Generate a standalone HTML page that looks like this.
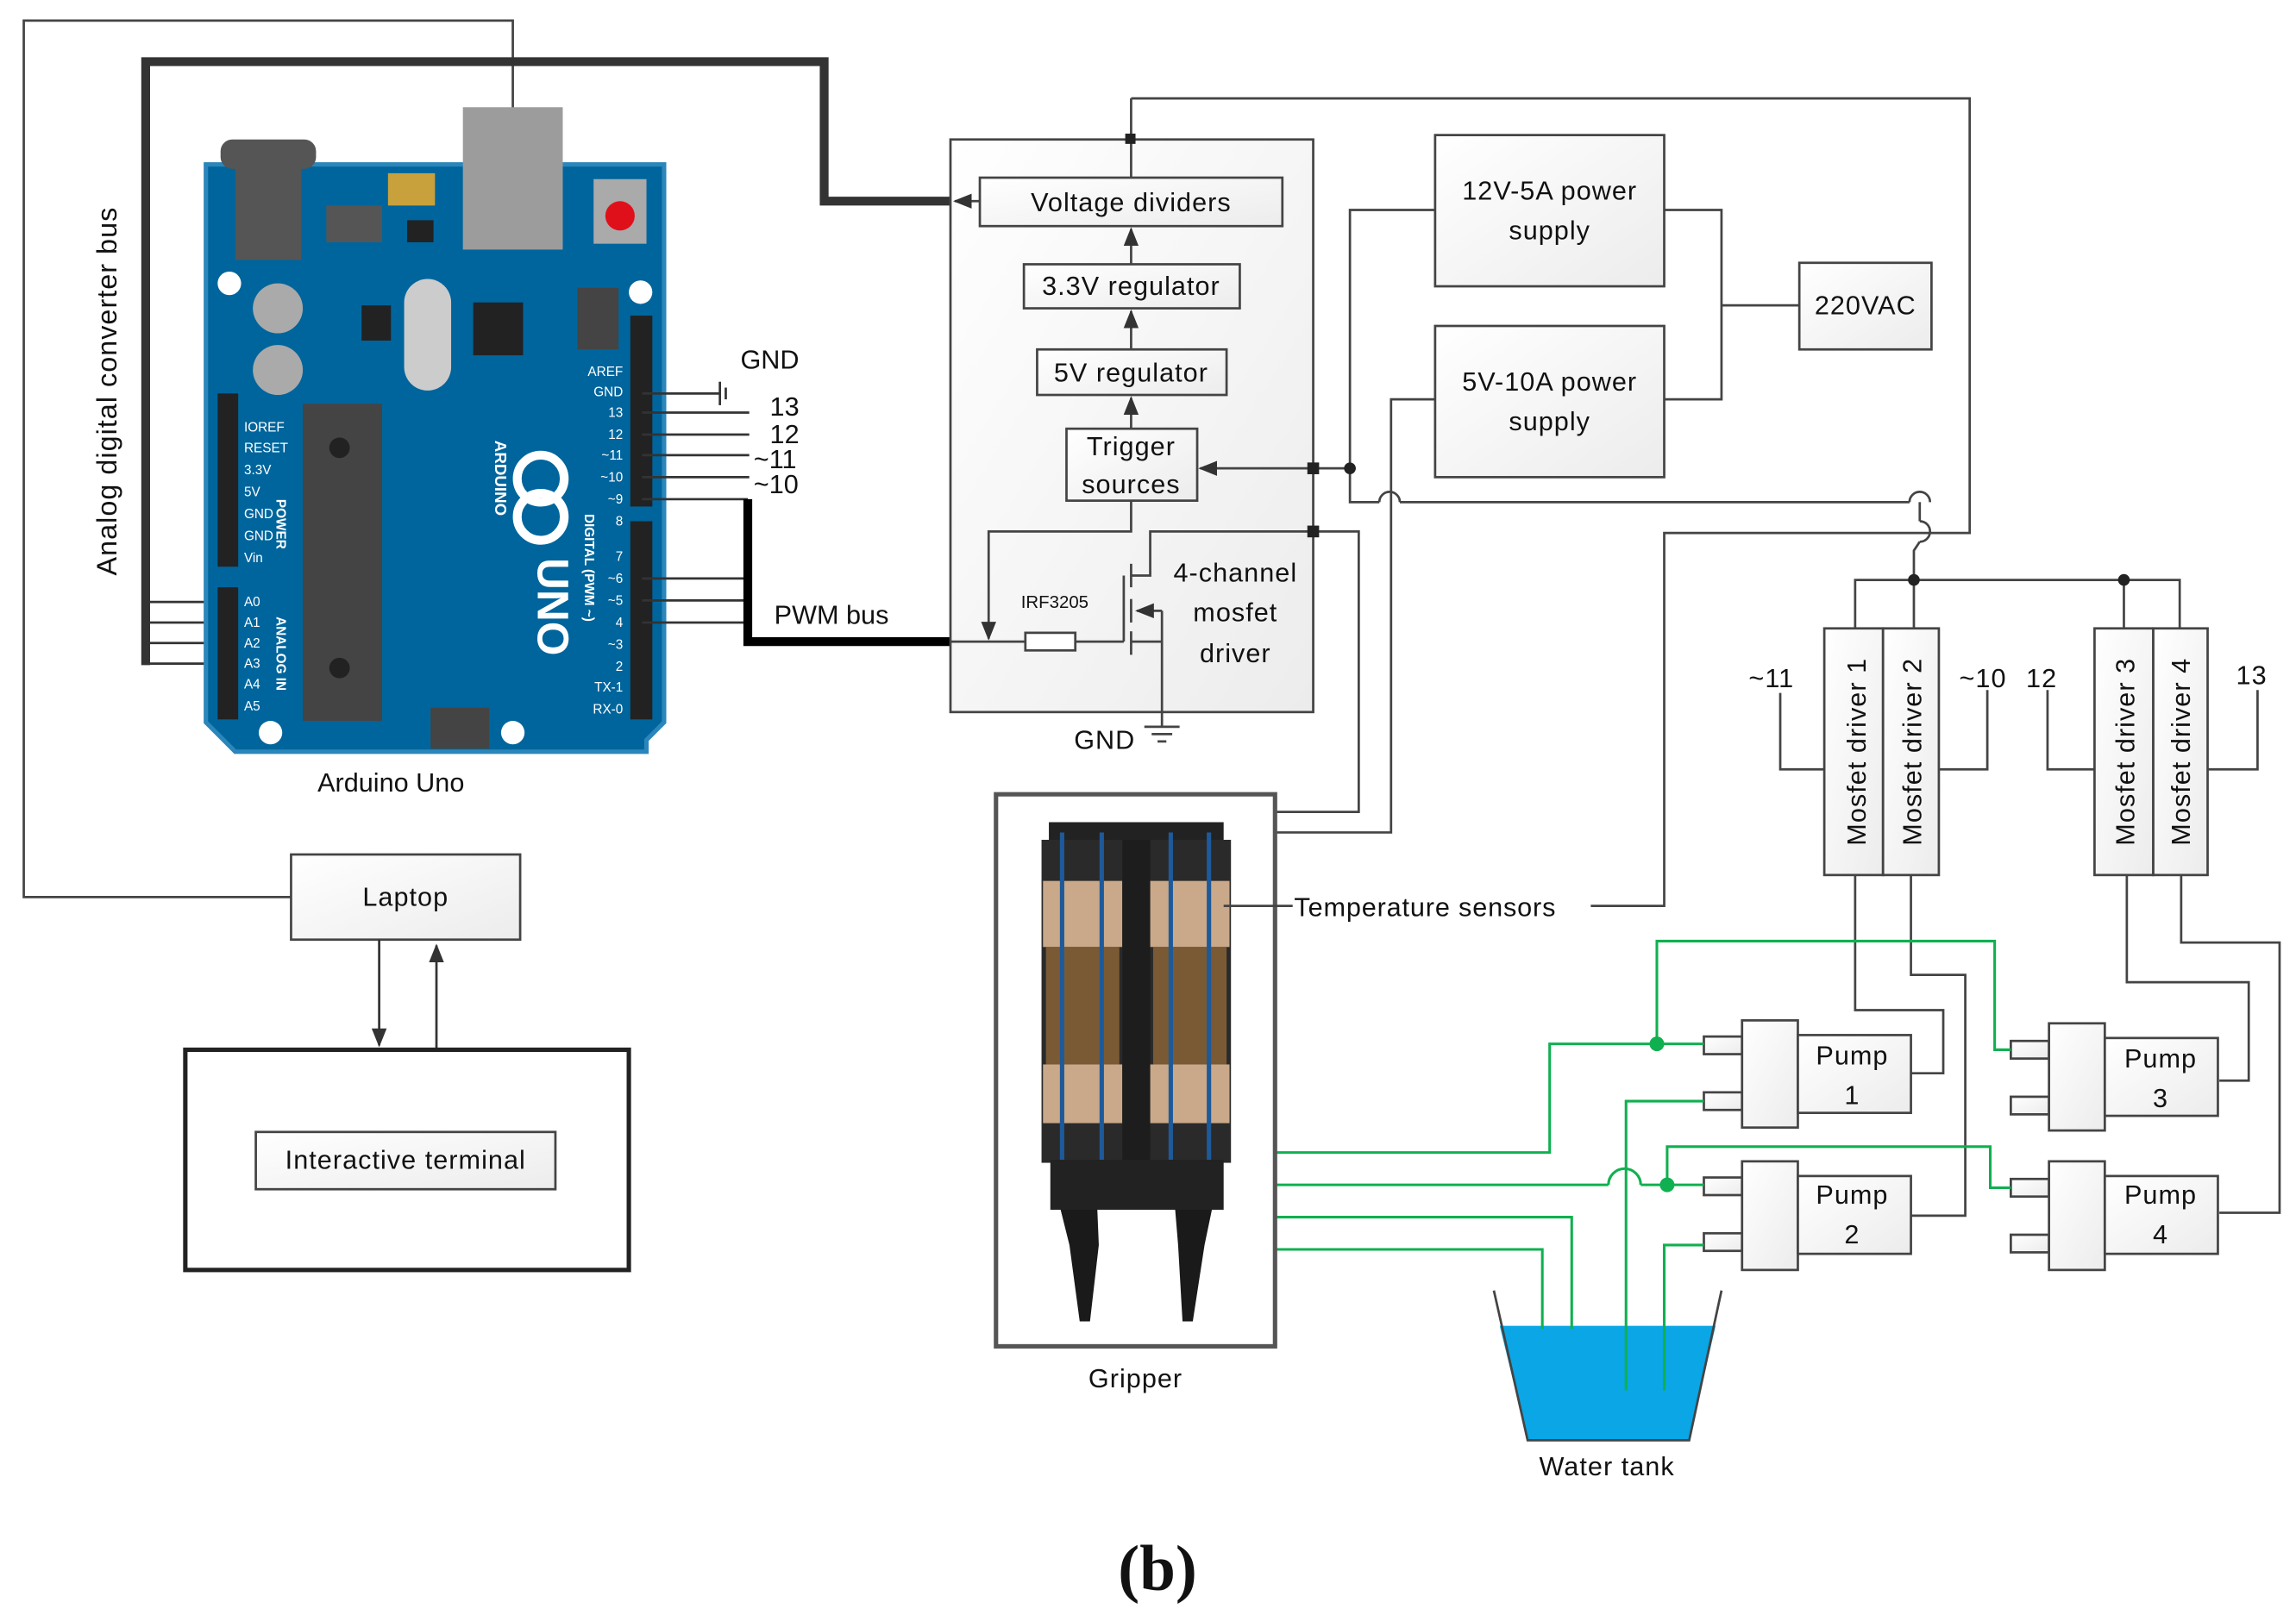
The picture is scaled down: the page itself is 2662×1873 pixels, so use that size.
<!DOCTYPE html>
<html><head><meta charset="utf-8"><style>
html,body{margin:0;padding:0;background:#fff;}
svg{display:block;}
text{font-family:"Liberation Sans","DejaVu Sans",sans-serif;fill:#111;}
</style></head><body>
<svg width="2662" height="1873" viewBox="0 0 1563 1100" xmlns="http://www.w3.org/2000/svg">
<defs>
<linearGradient id="bg" x1="0" y1="0" x2="1" y2="1"><stop offset="0" stop-color="#fff"/><stop offset="1" stop-color="#ececec"/></linearGradient>
<marker id="ar" viewBox="0 0 10 10" refX="9" refY="5" markerWidth="8" markerHeight="8" orient="auto"><path d="M0,1 L10,5 L0,9 z" fill="#333"/></marker>
</defs>
<rect width="1563" height="1100" fill="#fff"/>
<g fill="none" stroke="#444" stroke-width="1.6">
<polyline points="349,75 349,14 16,14 16,611 198,611"/>
</g>
<polyline points="99,453 99,42 561,42 561,137 647,137" fill="none" stroke="#333" stroke-width="6"/>
<g stroke="#333" stroke-width="1.6">
<line x1="99" y1="410" x2="152" y2="410"/><line x1="99" y1="424" x2="152" y2="424"/><line x1="99" y1="438" x2="152" y2="438"/><line x1="99" y1="452" x2="152" y2="452"/>
</g>
<path d="M140,112 L452,112 L452,492 L440,504 L440,512 L160,512 L140,492 Z" fill="#00659c" stroke="#2a86bb" stroke-width="3"/>
<rect x="150" y="95" width="65" height="20" rx="8" fill="#555"/>
<rect x="160" y="112" width="45" height="65" fill="#555"/>
<rect x="315" y="73" width="68" height="97" fill="#9c9c9c"/>
<rect x="264" y="118" width="32" height="22" fill="#c8a13c"/>
<rect x="404" y="122" width="36" height="44" fill="#aaa"/>
<circle cx="422" cy="147" r="10" fill="#e0101a"/>
<rect x="222" y="140" width="38" height="25" fill="#555"/>
<rect x="277" y="150" width="18" height="15" fill="#222"/>
<circle cx="189" cy="210" r="17" fill="#aaa"/><circle cx="189" cy="252" r="17" fill="#aaa"/>
<rect x="275" y="190" width="32" height="76" rx="16" fill="#ccc"/>
<rect x="322" y="206" width="34" height="36" fill="#222"/>
<rect x="246" y="208" width="20" height="24" fill="#222"/>
<rect x="206" y="275" width="54" height="216" fill="#444"/>
<circle cx="231" cy="305" r="7" fill="#222"/><circle cx="231" cy="455" r="7" fill="#222"/>
<circle cx="156" cy="193" r="8" fill="#fff"/><circle cx="436" cy="199" r="8" fill="#fff"/>
<circle cx="184" cy="499" r="8" fill="#fff"/><circle cx="349" cy="499" r="8" fill="#fff"/>
<rect x="148" y="268" width="14" height="118" fill="#222"/>
<rect x="148" y="400" width="14" height="90" fill="#222"/>
<rect x="429" y="215" width="15" height="130" fill="#222"/>
<rect x="429" y="355" width="15" height="135" fill="#222"/>
<rect x="393" y="196" width="28" height="42" fill="#444"/>
<rect x="293" y="482" width="40" height="28" fill="#444"/>
<circle cx="368" cy="326" r="16" fill="none" stroke="#fff" stroke-width="6"/>
<circle cx="368" cy="352" r="16" fill="none" stroke="#fff" stroke-width="6"/>
<text x="366" y="380" transform="rotate(90 366 380)" font-size="30" style="fill:#fff" font-weight="bold">UNO</text>
<text x="337" y="300" transform="rotate(90 337 300)" font-size="11" style="fill:#fff" font-weight="bold">ARDUINO</text>
<text x="398" y="350" transform="rotate(90 398 350)" font-size="9" style="fill:#fff" font-weight="bold">DIGITAL (PWM ~)</text>
<text x="188" y="420" transform="rotate(90 188 420)" font-size="9" style="fill:#fff" font-weight="bold">ANALOG IN</text>
<text x="188" y="340" transform="rotate(90 188 340)" font-size="9" style="fill:#fff" font-weight="bold">POWER</text>
<g font-size="9"><text x="166" y="294" style="fill:#fff">IOREF</text><text x="166" y="308" style="fill:#fff">RESET</text><text x="166" y="323" style="fill:#fff">3.3V</text><text x="166" y="338" style="fill:#fff">5V</text><text x="166" y="353" style="fill:#fff">GND</text><text x="166" y="368" style="fill:#fff">GND</text><text x="166" y="383" style="fill:#fff">Vin</text>
<text x="166" y="413" style="fill:#fff">A0</text><text x="166" y="427" style="fill:#fff">A1</text><text x="166" y="441" style="fill:#fff">A2</text><text x="166" y="455" style="fill:#fff">A3</text><text x="166" y="469" style="fill:#fff">A4</text><text x="166" y="484" style="fill:#fff">A5</text>
<g text-anchor="end"><text x="424" y="256" style="fill:#fff">AREF</text><text x="424" y="270" style="fill:#fff">GND</text><text x="424" y="284" style="fill:#fff">13</text><text x="424" y="299" style="fill:#fff">12</text><text x="424" y="313" style="fill:#fff">~11</text><text x="424" y="328" style="fill:#fff">~10</text><text x="424" y="343" style="fill:#fff">~9</text><text x="424" y="358" style="fill:#fff">8</text><text x="424" y="382" style="fill:#fff">7</text><text x="424" y="397" style="fill:#fff">~6</text><text x="424" y="412" style="fill:#fff">~5</text><text x="424" y="427" style="fill:#fff">4</text><text x="424" y="442" style="fill:#fff">~3</text><text x="424" y="457" style="fill:#fff">2</text><text x="424" y="471" style="fill:#fff">TX-1</text><text x="424" y="486" style="fill:#fff">RX-0</text></g></g>
<text x="79" y="392" transform="rotate(-90 79 392)" font-size="19" letter-spacing="0.6">Analog digital converter bus</text>
<text x="216" y="539" font-size="18">Arduino Uno</text>
<g stroke="#333" stroke-width="1.6" fill="none">
<line x1="437" y1="268" x2="490" y2="268"/><line x1="490" y1="260" x2="490" y2="276"/><line x1="494" y1="264" x2="494" y2="272"/>
<line x1="437" y1="281" x2="510" y2="281"/><line x1="437" y1="296" x2="510" y2="296"/><line x1="437" y1="310" x2="510" y2="310"/><line x1="437" y1="325" x2="510" y2="325"/>
<line x1="437" y1="340" x2="509" y2="340"/><line x1="437" y1="394" x2="509" y2="394"/><line x1="437" y1="409" x2="509" y2="409"/><line x1="437" y1="424" x2="509" y2="424"/>
</g>
<polyline points="509,340 509,437 647,437" fill="none" stroke="#000" stroke-width="6"/>
<g font-size="18"><text x="504" y="251">GND</text><text x="524" y="283">13</text><text x="524" y="302">12</text><text x="513" y="319">~11</text><text x="513" y="336">~10</text><text x="527" y="425">PWM bus</text></g>
<rect x="647" y="95" width="247" height="390" fill="url(#bg)" stroke="#444" stroke-width="1.6"/>
<g fill="url(#bg)" stroke="#444" stroke-width="1.6">
<rect x="667" y="121" width="206" height="33"/><rect x="697" y="180" width="147" height="30"/><rect x="706" y="238" width="129" height="31"/><rect x="726" y="292" width="89" height="49"/>
</g>
<g stroke="#444" stroke-width="1.6" fill="none">
<line x1="770" y1="67" x2="770" y2="121"/>
<line x1="770" y1="180" x2="770" y2="156" marker-end="url(#ar)"/>
<line x1="770" y1="238" x2="770" y2="212" marker-end="url(#ar)"/>
<line x1="770" y1="292" x2="770" y2="271" marker-end="url(#ar)"/>
<line x1="667" y1="137" x2="650" y2="137" marker-end="url(#ar)"/>
<polyline points="770,67 1341,67 1341,363 1133,363 1133,617 1083,617"/>
<line x1="894" y1="319" x2="817" y2="319" marker-end="url(#ar)"/>
<line x1="894" y1="319" x2="919" y2="319"/>
<polyline points="977,143 919,143 919,342 939,342"/><path d="M939,342 A7,7 0 0 1 953,342" /><polyline points="953,342 1300,342"/><path d="M1300,342 A7,7 0 0 1 1314,342"/>
<polyline points="977,272 947,272 947,567 868,567"/>
<polyline points="894,362 925,362 925,553 868,553"/>
<polyline points="770,341 770,362 673,362 673,435" marker-end="url(#ar)"/>
<line x1="647" y1="437" x2="698" y2="437"/><line x1="732" y1="437" x2="765" y2="437"/><line x1="765" y1="437" x2="765" y2="392"/>
<line x1="770" y1="384" x2="770" y2="400"/><line x1="770" y1="408" x2="770" y2="424"/><line x1="770" y1="430" x2="770" y2="446"/>
<polyline points="770,392 783,392 783,362 894,362"/>
<line x1="770" y1="437" x2="791" y2="437"/><line x1="791" y1="416" x2="791" y2="495"/><line x1="791" y1="416" x2="774" y2="416" marker-end="url(#ar)"/>
<line x1="779" y1="495" x2="803" y2="495"/><line x1="784" y1="500" x2="798" y2="500"/><line x1="788" y1="505" x2="794" y2="505"/>
<polyline points="1133,143 1172,143 1172,272 1133,272"/><line x1="1172" y1="208" x2="1225" y2="208"/>
<polyline points="1307,342 1307,355"/><path d="M1307,355 A7,7 0 0 1 1307,369"/><polyline points="1307,369 1303,375 1303,395"/>
<polyline points="1263,428 1263,395 1484,395 1484,428"/><line x1="1303" y1="395" x2="1303" y2="428"/><line x1="1446" y1="395" x2="1446" y2="428"/>
<polyline points="1212,472 1212,524 1242,524"/><polyline points="1353,470 1353,524 1320,524"/>
<polyline points="1394,470 1394,524 1426,524"/><polyline points="1537,470 1537,524 1503,524"/>
<polyline points="1263,596 1263,688 1323,688 1323,731 1301,731"/>
<polyline points="1301,596 1301,664 1338,664 1338,828 1301,828"/>
<polyline points="1448,596 1448,669 1531,669 1531,736 1511,736"/>
<polyline points="1485,596 1485,642 1552,642 1552,826 1511,826"/>
</g>
<g fill="#222"><rect x="766" y="91" width="7" height="7"/><rect x="890" y="315" width="8" height="8"/><rect x="890" y="358" width="8" height="8"/><circle cx="919" cy="319" r="4"/><circle cx="1303" cy="395" r="4"/><circle cx="1446" cy="395" r="4"/></g>
<rect x="698" y="431" width="34" height="12" fill="#fff" stroke="#444" stroke-width="1.6"/>
<g font-size="18" text-anchor="middle" letter-spacing="0.6">
<text x="770" y="144">Voltage dividers</text><text x="770" y="201">3.3V regulator</text><text x="770" y="260">5V regulator</text>
<text x="770" y="310">Trigger</text><text x="770" y="336">sources</text>
<text x="841" y="396">4-channel</text><text x="841" y="423">mosfet</text><text x="841" y="451">driver</text>
<text x="752" y="510">GND</text>
</g>
<text x="695" y="414" font-size="12">IRF3205</text>
<g fill="url(#bg)" stroke="#444" stroke-width="1.6">
<rect x="977" y="92" width="156" height="103"/><rect x="977" y="222" width="156" height="103"/><rect x="1225" y="179" width="90" height="59"/>
<rect x="1242" y="428" width="40" height="168"/><rect x="1282" y="428" width="38" height="168"/><rect x="1426" y="428" width="40" height="168"/><rect x="1466" y="428" width="37" height="168"/>
</g>
<g font-size="18" text-anchor="middle" letter-spacing="0.6">
<text x="1055" y="136">12V-5A power</text><text x="1055" y="163">supply</text>
<text x="1055" y="266">5V-10A power</text><text x="1055" y="293">supply</text>
<text x="1270" y="214">220VAC</text>
<text transform="translate(1270,512) rotate(-90)">Mosfet driver 1</text>
<text transform="translate(1308,512) rotate(-90)">Mosfet driver 2</text>
<text transform="translate(1453,512) rotate(-90)">Mosfet driver 3</text>
<text transform="translate(1491,512) rotate(-90)">Mosfet driver 4</text>
<text x="1206" y="468">~11</text><text x="1350" y="468">~10</text><text x="1390" y="468">12</text><text x="1533" y="466">13</text>
</g>
<g fill="url(#bg)" stroke="#444" stroke-width="1.6">
<rect x="1160" y="706" width="26" height="12"/><rect x="1160" y="744" width="26" height="12"/><rect x="1186" y="695" width="38" height="73"/><rect x="1224" y="705" width="77" height="53"/>
<rect x="1160" y="802" width="26" height="12"/><rect x="1160" y="840" width="26" height="12"/><rect x="1186" y="791" width="38" height="74"/><rect x="1224" y="801" width="77" height="53"/>
<rect x="1369" y="709" width="26" height="12"/><rect x="1369" y="747" width="26" height="12"/><rect x="1395" y="697" width="38" height="73"/><rect x="1433" y="707" width="77" height="53"/>
<rect x="1369" y="803" width="26" height="12"/><rect x="1369" y="841" width="26" height="12"/><rect x="1395" y="791" width="38" height="74"/><rect x="1433" y="801" width="77" height="53"/>
</g>
<g font-size="18" text-anchor="middle" letter-spacing="0.6">
<text x="1261" y="725">Pump</text><text x="1261" y="752">1</text>
<text x="1261" y="820">Pump</text><text x="1261" y="847">2</text>
<text x="1471" y="727">Pump</text><text x="1471" y="754">3</text>
<text x="1471" y="820">Pump</text><text x="1471" y="847">4</text>
</g>
<path d="M1021,903 L1168,903 L1150,981 L1040,981 Z" fill="#0aa6e6"/>
<path d="M1017,879 L1040,981 L1150,981 L1172,879" fill="none" stroke="#444" stroke-width="1.6"/>
<text x="1094" y="1005" font-size="18" text-anchor="middle" letter-spacing="0.6">Water tank</text>
<g fill="none" stroke="#10b050" stroke-width="1.8">
<polyline points="868,785 1055,785 1055,711 1160,711"/>
<polyline points="1128,711 1128,641 1358,641 1358,715 1369,715"/>
<polyline points="868,807 1095,807"/><path d="M1095,807 A10,10 0 0 1 1117,807"/><polyline points="1117,807 1160,807"/>
<polyline points="1135,807 1135,781 1355,781 1355,809 1369,809"/>
<polyline points="868,829 1070,829 1070,905"/>
<polyline points="868,851 1050,851 1050,905"/>
<polyline points="1160,750 1107,750 1107,947"/>
<polyline points="1160,848 1133,848 1133,947"/>
</g>
<g fill="#10b050"><circle cx="1128" cy="711" r="5"/><circle cx="1135" cy="807" r="5"/></g>
<rect x="678" y="541" width="190" height="376" fill="#fff" stroke="#555" stroke-width="3"/>
<rect x="714" y="560" width="119" height="15" fill="#222"/>
<rect x="709" y="572" width="129" height="220" fill="#2a2a2a"/>
<g fill="#c9a98a"><rect x="710" y="600" width="54" height="45"/><rect x="783" y="600" width="54" height="45"/><rect x="710" y="725" width="54" height="40"/><rect x="783" y="725" width="54" height="40"/></g>
<g fill="#7a5a35"><rect x="712" y="645" width="50" height="80"/><rect x="785" y="645" width="50" height="80"/></g>
<rect x="764" y="572" width="19" height="222" fill="#1d1d1d"/>
<g stroke="#1e5a9a" stroke-width="3"><line x1="723" y1="567" x2="723" y2="790"/><line x1="750" y1="567" x2="750" y2="790"/><line x1="797" y1="567" x2="797" y2="790"/><line x1="823" y1="567" x2="823" y2="790"/></g>
<rect x="715" y="790" width="118" height="34" fill="#222"/>
<path d="M722,824 L747,824 L748,848 L742,900 L735,900 L728,848 Z" fill="#1a1a1a"/>
<path d="M800,824 L825,824 L820,848 L812,900 L805,900 L802,848 Z" fill="#1a1a1a"/>
<text x="881" y="624" font-size="18" letter-spacing="0.5">Temperature sensors</text>
<line x1="833" y1="617" x2="880" y2="617" stroke="#444" stroke-width="1.6"/>
<text x="773" y="945" font-size="18" text-anchor="middle" letter-spacing="0.6">Gripper</text>
<rect x="198" y="582" width="156" height="58" fill="url(#bg)" stroke="#444" stroke-width="1.6"/>
<text x="276" y="617" font-size="18" text-anchor="middle" letter-spacing="0.6">Laptop</text>
<g stroke="#333" stroke-width="1.6"><line x1="258" y1="640" x2="258" y2="712" marker-end="url(#ar)"/><line x1="297" y1="715" x2="297" y2="644" marker-end="url(#ar)"/></g>
<rect x="126" y="715" width="302" height="150" fill="#fff" stroke="#222" stroke-width="3"/>
<rect x="174" y="771" width="204" height="39" fill="url(#bg)" stroke="#444" stroke-width="1.6"/>
<text x="276" y="796" font-size="18" text-anchor="middle" letter-spacing="0.6">Interactive terminal</text>
<text x="788" y="1083" font-size="44" font-weight="bold" text-anchor="middle" style="font-family:'Liberation Serif',serif">(b)</text>
</svg>
</body></html>
